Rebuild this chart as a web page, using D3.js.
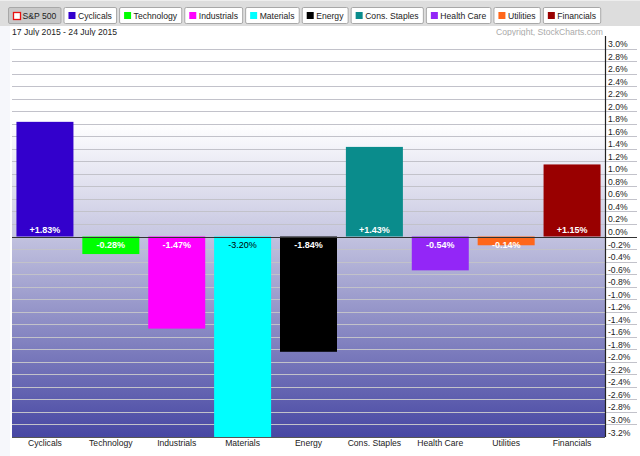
<!DOCTYPE html>
<html>
<head>
<meta charset="utf-8">
<script src="https://cdn.jsdelivr.net/npm/d3@7"></script>
<style>
  html, body { margin: 0; padding: 0; background: #fff; }
  svg { display: block; font-family: "Liberation Sans", Arial, Helvetica, sans-serif; }
</style>
</head>
<body>
<svg id="chart" width="640" height="456"></svg>
<script>
const categories = ["Cyclicals", "Technology", "Industrials", "Materials", "Energy", "Cons. Staples", "Health Care", "Utilities", "Financials"];
const values = [1.83, -0.28, -1.47, -3.20, -1.84, 1.43, -0.54, -0.14, 1.15];
const colors = ["#3300cc", "#00ff00", "#ff00ff", "#00ffff", "#000000", "#0a8c8c", "#9326f7", "#ff661a", "#990000"];
const legendNames = ["S&P 500", "Cyclicals", "Technology", "Industrials", "Materials", "Energy", "Cons. Staples", "Health Care", "Utilities", "Financials"];
const legendColors = ["none", "#3300cc", "#00ff00", "#ff00ff", "#00ffff", "#000000", "#0a8c8c", "#9326f7", "#ff661a", "#990000"];
const tickValues = d3.range(-32, 31, 2).map(v => v / 10);
const dateRange = "17 July 2015 - 24 July 2015";
const copyright = "Copyright, StockCharts.com";

const svg = d3.select("#chart");
const W = 640, H = 456;
const plot = { left: 12, right: 605, top: 36, bottom: 437 };
const FS = 8.6;

// top toolbar strip
svg.append("rect").attr("x", 0).attr("y", 0).attr("width", W).attr("height", 26).attr("fill", "#dddddd");
svg.append("rect").attr("x", 0).attr("y", 0).attr("width", W).attr("height", 1).attr("fill", "#eeeeee");
// faint left page strip
svg.append("rect").attr("x", 0).attr("y", 26).attr("width", 10).attr("height", H - 26).attr("fill", "#f6f7fb");

// legend buttons
const lg = svg.append("g");
let lx = 8;
legendNames.forEach((name, i) => {
  const t = lg.append("text").attr("x", 0).attr("y", 0).attr("font-size", FS).text(name);
  const w = t.node().getComputedTextLength();
  t.remove();
  const bw = w + 18.7;
  const g = lg.append("g").attr("transform", `translate(${lx},7)`);
  g.append("rect").attr("x", 0.5).attr("y", 0.5).attr("width", bw).attr("height", 16).attr("rx", 1.5)
    .attr("fill", i === 0 ? "#c9c9c9" : "#ffffff").attr("stroke", "#a8a8a8");
  if (i === 0) {
    g.append("rect").attr("x", 5.5).attr("y", 5.5).attr("width", 7).attr("height", 7).attr("fill", "#fff").attr("stroke", "#e81010").attr("stroke-width", 1.3);
  } else {
    g.append("rect").attr("x", 5).attr("y", 5).attr("width", 7).attr("height", 7).attr("fill", legendColors[i]);
  }
  g.append("text").attr("x", 14.5).attr("y", 11.8).attr("font-size", FS).attr("fill", "#222").text(name);
  lx += bw + 3;
});

// header texts
svg.append("text").attr("x", 12).attr("y", 35).attr("font-size", FS).attr("fill", "#222").text(dateRange);
svg.append("text").attr("x", 603).attr("y", 35).attr("font-size", FS).attr("fill", "#aaaaaa").attr("text-anchor", "end").text(copyright);

// scales
const x = d3.scaleBand().domain(categories).range([plot.left, plot.right]).paddingInner(0.135).paddingOuter(0.0675);
const y = d3.scaleLinear().domain([-3.2, 3.2]).range([plot.bottom, plot.top]);

// background gradient
const defs = svg.append("defs");
const grad = defs.append("linearGradient").attr("id", "bg").attr("x1", 0).attr("y1", 0).attr("x2", 0).attr("y2", 1);
[[0, "#ffffff"], [0.22, "#ffffff"], [0.5, "#c6c6e1"], [0.51, "#c0c0de"], [1, "#4747a3"]].forEach(([o, c]) =>
  grad.append("stop").attr("offset", o).attr("stop-color", c));
svg.append("rect").attr("x", plot.left).attr("y", plot.top).attr("width", plot.right - plot.left)
  .attr("height", plot.bottom - plot.top).attr("fill", "url(#bg)");

// gridlines
svg.append("g").selectAll("line").data(tickValues.filter(v => Math.abs(v) > 1e-9 && v > -3.19)).join("line")
  .attr("x1", plot.left).attr("x2", 637)
  .attr("y1", d => Math.round(y(d)) + 0.5).attr("y2", d => Math.round(y(d)) + 0.5)
  .attr("stroke", "#c2c2ca").attr("stroke-width", 1.2);

// bars
svg.append("g").selectAll("rect").data(categories).join("rect")
  .attr("x", d => x(d))
  .attr("width", x.bandwidth())
  .attr("y", (d, i) => y(Math.max(0, values[i])))
  .attr("height", (d, i) => Math.abs(y(values[i]) - y(0)))
  .attr("fill", (d, i) => colors[i]);

// bar value labels
function isLight(c) {
  const col = d3.rgb(c);
  return (0.299 * col.r + 0.587 * col.g + 0.114 * col.b) > 150;
}
svg.append("g").selectAll("text").data(categories).join("text")
  .attr("x", d => x(d) + x.bandwidth() / 2)
  .attr("y", (d, i) => values[i] >= 0 ? y(0) - 4 : y(0) + 11)
  .attr("text-anchor", "middle")
  .attr("font-size", 9)
  .attr("font-weight", (d, i) => isLight(colors[i]) ? "normal" : "bold")
  .attr("fill", (d, i) => isLight(colors[i]) ? "#000" : "#fff")
  .text((d, i) => (values[i] > 0 ? "+" : "") + values[i].toFixed(2) + "%");

// zero line
svg.append("line").attr("x1", plot.left).attr("x2", 637).attr("y1", Math.round(y(0)) + 0.5).attr("y2", Math.round(y(0)) + 0.5)
  .attr("stroke", "#333").attr("stroke-width", 1.2);

// bottom axis line
svg.append("line").attr("x1", plot.left).attr("x2", plot.right).attr("y1", plot.bottom + 0.5).attr("y2", plot.bottom + 0.5)
  .attr("stroke", "#555").attr("stroke-width", 1.2);

// right axis line
svg.append("line").attr("x1", plot.right + 0.5).attr("x2", plot.right + 0.5).attr("y1", plot.top).attr("y2", plot.bottom)
  .attr("stroke", "#222").attr("stroke-width", 1.2);

// y tick labels
svg.append("g").selectAll("text").data(tickValues).join("text")
  .attr("x", plot.right + 3)
  .attr("y", d => y(d) - 1.5)
  .attr("font-size", FS)
  .attr("fill", "#222")
  .text(d => d.toFixed(1) + "%");

// x category labels
svg.append("g").selectAll("text").data(categories).join("text")
  .attr("x", d => x(d) + x.bandwidth() / 2)
  .attr("y", 446)
  .attr("text-anchor", "middle")
  .attr("font-size", FS)
  .attr("fill", "#222")
  .text(d => d);
</script>
</body>
</html>
